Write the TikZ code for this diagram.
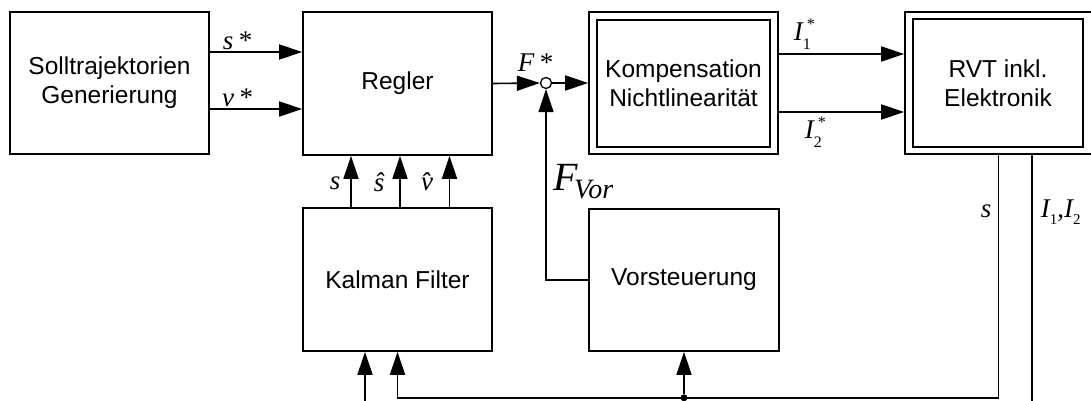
\documentclass[tikz,border=0pt]{standalone}
\usepackage{fontspec}
\setmainfont{Liberation Sans}
\newfontfamily\tms{Liberation Serif}
\usetikzlibrary{arrows.meta}
\begin{document}
\begin{tikzpicture}[x=1pt,y=-1pt,line width=1.6pt,
  blk/.style={draw,rectangle,inner sep=0pt,align=center,font=\fontsize{24.5}{29}\selectfont},
  frame/.style={draw,rectangle,inner sep=0pt},
  arr/.style={-{Triangle[length=23pt,width=15pt]}},
  lab/.style={inner sep=0pt,font=\tms\itshape\fontsize{27}{27}\selectfont},
  sumc/.style={draw,circle,fill=white,minimum size=11pt,inner sep=0pt,line width=1.3pt},
  dot/.style={fill,circle,minimum size=7pt,inner sep=0pt}]
\useasboundingbox (0,0) rectangle (1091,401);
\node[blk,minimum width=199pt,minimum height=142pt] (sg) at (109.5,83) {Solltrajektorien\\Generierung};
\node[blk,minimum width=189pt,minimum height=143pt] (reg) at (397.5,83.5) {Regler};
\node[frame,minimum width=189pt,minimum height=142pt] (kompo) at (683.5,83) {};
\node[blk,minimum width=173pt,minimum height=127pt] (kompi) at (683.5,83.5) {Kompensation\\Nichtlinearität};
\node[frame,minimum width=187pt,minimum height=142pt] (rvto) at (998.5,83) {};
\node[blk,minimum width=170pt,minimum height=128pt] (rvti) at (998,83) {RVT inkl.\\Elektronik};
\node[blk,minimum width=189pt,minimum height=143pt] (kal) at (397.5,279.5) {Kalman Filter};
\node[blk,minimum width=190pt,minimum height=142pt] (vor) at (684,280) {Vorsteuerung};
\node[sumc] (sum) at (546,83) {};
% inputs to Regler
\draw[arr] ([yshift=31pt]sg.east) -- ([yshift=31pt]sg.east -| reg.west);
\draw[arr] ([yshift=-26pt]sg.east) -- ([yshift=-26pt]sg.east -| reg.west);
\node[lab] (ls) at (237,41) {s\,*};
\node[lab] (lv) at (237,98) {v\,*};
% Regler to summing point
\draw[arr] (reg.east) -- (sum.west);
\draw[arr] (sum.east) -- (sum.east -| kompo.west);
\node[lab] (lf) at (535,63) {F\,*};
% currents
\draw[arr] ([yshift=29pt]kompo.east) -- ([yshift=29pt]kompo.east -| rvto.west);
\draw[arr] ([yshift=-29pt]kompo.east) -- ([yshift=-29pt]kompo.east -| rvto.west);
\node[lab,anchor=base west] (li1) at (793,41) {I\raisebox{-9pt}{\upshape\fontsize{16}{16}\selectfont 1}};
\node[lab,anchor=base west,font=\tms\fontsize{16}{16}\selectfont] (li1s) at (806,30) {*};
\node[lab,anchor=base west] (li2) at (804,139) {I\raisebox{-9pt}{\upshape\fontsize{16}{16}\selectfont 2}};
\node[lab,anchor=base west,font=\tms\fontsize{16}{16}\selectfont] (li2s) at (817,128) {*};
% Kalman outputs
\draw[arr] ([xshift=-46.5pt]kal.north) -- ([xshift=-46.5pt]kal.north |- reg.south);
\draw[arr] ([xshift=2.5pt]kal.north) -- ([xshift=2.5pt]kal.north |- reg.south);
\draw[arr] ([xshift=52pt]kal.north) -- ([xshift=52pt]kal.north |- reg.south);
\node[lab] (lks) at (335,183) {s};
\node[lab] (lksh) at (379,182) {\^{s}};
\node[lab] (lkvh) at (427,182) {\^{v}};
% feedforward
\draw[arr] (vor.west) -| (sum.south);
\node[lab,anchor=base west] (lfv) at (553,190) {\fontsize{40}{40}\selectfont F\kern-4pt\raisebox{-8pt}{\fontsize{28}{28}\selectfont Vor}};
% feedback of s
\coordinate (fb) at ([yshift=-46pt]kal.south);
\draw[arr] (rvto.south) |- (fb) -- (kal.south);
\node[dot] (br) at (vor.south |- fb) {};
\draw[arr] (br) -- (vor.south);
\coordinate (kin) at (365,404);
\draw[arr] (kin) -- (kin |- kal.south);
% currents measured
\coordinate (iend) at (1032,404);
\draw ([xshift=33.5pt]rvto.south) -- ([xshift=33.5pt]rvto.south |- iend);
\node[lab] (lrs) at (986,211) {s};
\node[lab,anchor=base west] (lri) at (1040,217) {I\raisebox{-7pt}{\upshape\fontsize{15}{15}\selectfont 1}{\upshape,}I\raisebox{-7pt}{\upshape\fontsize{15}{15}\selectfont 2}};
\end{tikzpicture}
\end{document}
